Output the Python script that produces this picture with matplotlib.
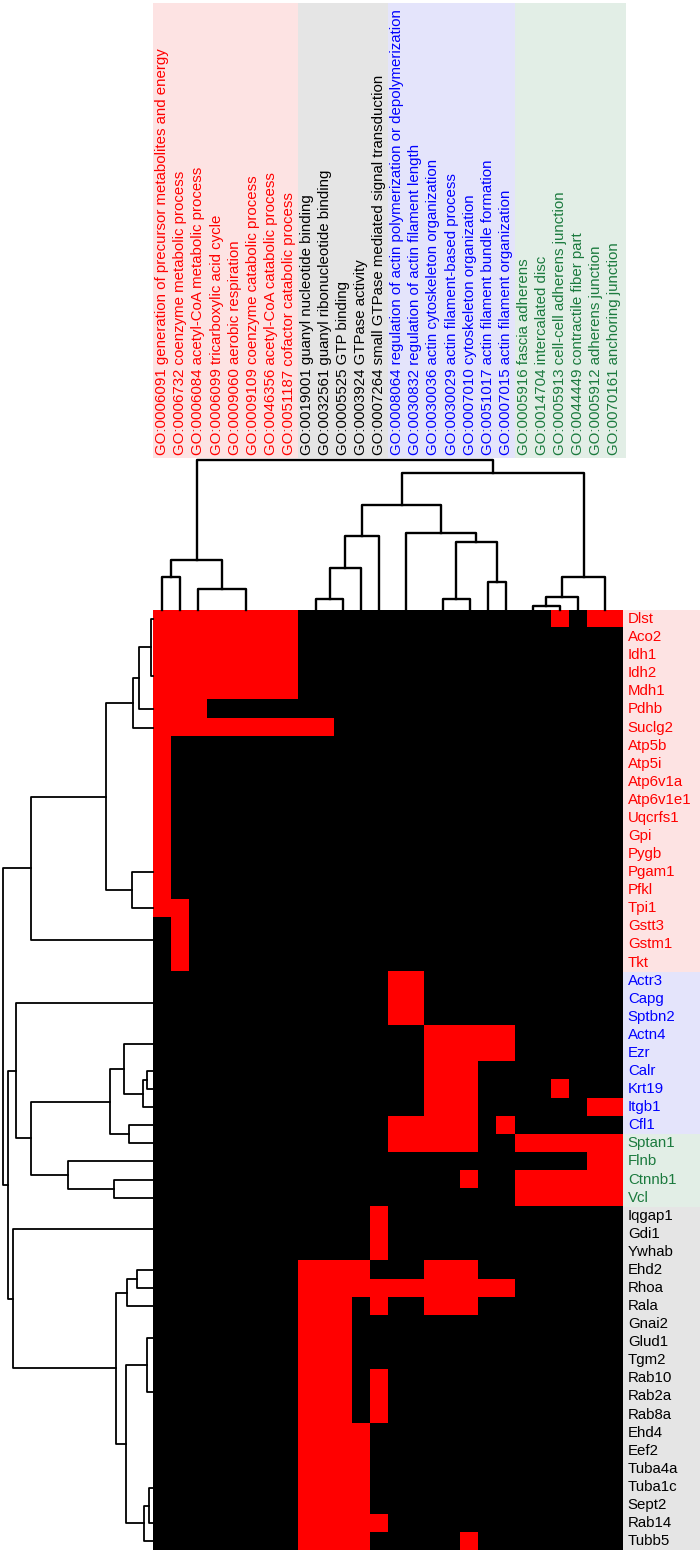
import numpy as np
import matplotlib
matplotlib.use('Agg')
import matplotlib.pyplot as plt
from matplotlib.colors import ListedColormap
from matplotlib.patches import Rectangle

plt.rcParams['font.family'] = ['Liberation Sans', 'DejaVu Sans']

# GO terms (columns), in dendrogram order
go_terms = [
    'GO:0006091 generation of precursor metabolites and energy',
    'GO:0006732 coenzyme metabolic process',
    'GO:0006084 acetyl-CoA metabolic process',
    'GO:0006099 tricarboxylic acid cycle',
    'GO:0009060 aerobic respiration',
    'GO:0009109 coenzyme catabolic process',
    'GO:0046356 acetyl-CoA catabolic process',
    'GO:0051187 cofactor catabolic process',
    'GO:0019001 guanyl nucleotide binding',
    'GO:0032561 guanyl ribonucleotide binding',
    'GO:0005525 GTP binding',
    'GO:0003924 GTPase activity',
    'GO:0007264 small GTPase mediated signal transduction',
    'GO:0008064 regulation of actin polymerization or depolymerization',
    'GO:0030832 regulation of actin filament length',
    'GO:0030036 actin cytoskeleton organization',
    'GO:0030029 actin filament-based process',
    'GO:0007010 cytoskeleton organization',
    'GO:0051017 actin filament bundle formation',
    'GO:0007015 actin filament organization',
    'GO:0005916 fascia adherens',
    'GO:0014704 intercalated disc',
    'GO:0005913 cell-cell adherens junction',
    'GO:0044449 contractile fiber part',
    'GO:0005912 adherens junction',
    'GO:0070161 anchoring junction',
]
col_groups = ['energy'] * 8 + ['gtp'] * 5 + ['actin'] * 7 + ['junction'] * 6

genes = ['Dlst', 'Aco2', 'Idh1', 'Idh2', 'Mdh1', 'Pdhb', 'Suclg2', 'Atp5b', 'Atp5i',
         'Atp6v1a', 'Atp6v1e1', 'Uqcrfs1', 'Gpi', 'Pygb', 'Pgam1', 'Pfkl', 'Tpi1',
         'Gstt3', 'Gstm1', 'Tkt',
         'Actr3', 'Capg', 'Sptbn2', 'Actn4', 'Ezr', 'Calr', 'Krt19', 'Itgb1', 'Cfl1',
         'Sptan1', 'Flnb', 'Ctnnb1', 'Vcl',
         'Iqgap1', 'Gdi1', 'Ywhab', 'Ehd2', 'Rhoa', 'Rala', 'Gnai2', 'Glud1', 'Tgm2',
         'Rab10', 'Rab2a', 'Rab8a', 'Ehd4', 'Eef2', 'Tuba4a', 'Tuba1c', 'Sept2',
         'Rab14', 'Tubb5']
row_groups = ['energy'] * 20 + ['actin'] * 9 + ['junction'] * 4 + ['gtp'] * 19

# gene x GO-term membership (1 = annotated)
hits = [
    '11111111000000000000001011',  # Dlst
    '11111111000000000000000000',  # Aco2
    '11111111000000000000000000',  # Idh1
    '11111111000000000000000000',  # Idh2
    '11111111000000000000000000',  # Mdh1
    '11100000000000000000000000',  # Pdhb
    '11111111110000000000000000',  # Suclg2
    '10000000000000000000000000',  # Atp5b
    '10000000000000000000000000',  # Atp5i
    '10000000000000000000000000',  # Atp6v1a
    '10000000000000000000000000',  # Atp6v1e1
    '10000000000000000000000000',  # Uqcrfs1
    '10000000000000000000000000',  # Gpi
    '10000000000000000000000000',  # Pygb
    '10000000000000000000000000',  # Pgam1
    '10000000000000000000000000',  # Pfkl
    '11000000000000000000000000',  # Tpi1
    '01000000000000000000000000',  # Gstt3
    '01000000000000000000000000',  # Gstm1
    '01000000000000000000000000',  # Tkt
    '00000000000001100000000000',  # Actr3
    '00000000000001100000000000',  # Capg
    '00000000000001100000000000',  # Sptbn2
    '00000000000000011111000000',  # Actn4
    '00000000000000011111000000',  # Ezr
    '00000000000000011100000000',  # Calr
    '00000000000000011100001000',  # Krt19
    '00000000000000011100000011',  # Itgb1
    '00000000000001111101000000',  # Cfl1
    '00000000000001111100111111',  # Sptan1
    '00000000000000000000000011',  # Flnb
    '00000000000000000100111111',  # Ctnnb1
    '00000000000000000000111111',  # Vcl
    '00000000000010000000000000',  # Iqgap1
    '00000000000010000000000000',  # Gdi1
    '00000000000010000000000000',  # Ywhab
    '00000000111100011100000000',  # Ehd2
    '00000000111111111111000000',  # Rhoa
    '00000000111010011100000000',  # Rala
    '00000000111000000000000000',  # Gnai2
    '00000000111000000000000000',  # Glud1
    '00000000111000000000000000',  # Tgm2
    '00000000111010000000000000',  # Rab10
    '00000000111010000000000000',  # Rab2a
    '00000000111010000000000000',  # Rab8a
    '00000000111100000000000000',  # Ehd4
    '00000000111100000000000000',  # Eef2
    '00000000111100000000000000',  # Tuba4a
    '00000000111100000000000000',  # Tuba1c
    '00000000111100000000000000',  # Sept2
    '00000000111110000000000000',  # Rab14
    '00000000111100000100000000',  # Tubb5
]
assert all(len(s) == len(go_terms) for s in hits) and len(hits) == len(genes)


def chain(leaves):
    node = leaves[0]
    for leaf in leaves[1:]:
        node = (node, leaf, 0)
    return node


# clustering trees: (left, right, merge height); leaves are indices
col_energy = ((0, 1, 32.7), (2, ((3, 4, 0), (5, (6, 7, 0), 0), 0), 20.7), 50)
col_gtp = ((((8, 9, 0), 10, 11.3), 11, 41.7), 12, 74)
col_actin = ((13, 14, 0), (((15, 16, 0), 17, 11.3), (18, 19, 28), 68.3), 77.3)
col_junc = ((((20, 21, 0), 22, 4), 23, 13.3), (24, 25, 0), 32.7)
col_tree = (col_energy, ((col_gtp, col_actin, 105), col_junc, 137.3), 150)

row_energy_a = (((0, chain([1, 2, 3, 4]), 2.7), 5, 14), 6, 20)
row_energy_b = (chain(list(range(7, 16))), 16, 21)
row_energy = ((row_energy_a, row_energy_b, 47.3), (17, (18, 19, 0), 0), 122.7)
row_actin = (((23, 24, 0), ((25, 26, 6), 27, 10.7), 29.3), (28, 29, 24), 43.3)
row_junc = (30, (31, 32, 39.3), 85)
row_cyto = (chain([20, 21, 22]), (row_actin, row_junc, 122.7), 137.3)
row_gtp_a = ((36, 37, 16.7), 38, 26)
row_gtp_b = ((39, (40, 41, 0), 0), (42, (43, 44, 0), 0), 6)
row_gtp_c = ((chain([45, 46, 47, 48, 49]), 50, 4), 51, 9.3)
row_gtp = ((33, (34, 35, 0), 0), (row_gtp_a, (row_gtp_b, row_gtp_c, 27.3), 37.3), 140)
row_tree = (row_energy, (row_cyto, row_gtp, 145), 150.7)

text_col = {'energy': '#ff0000', 'gtp': '#000000', 'actin': '#0000ff', 'junction': '#1b7a3e'}
bg_col = {'energy': '#fde3e3', 'gtp': '#e5e5e5', 'actin': '#e4e4fb', 'junction': '#e2eee6'}

W, H = 700, 1555
fig = plt.figure(figsize=(W / 100, H / 100), dpi=100)


def px_axes(left, top, right, bottom):
    ax = fig.add_axes([left / W, 1 - bottom / H, (right - left) / W, (bottom - top) / H])
    ax.set_axis_off()
    return ax


def draw_tree(ax, node, top, lw):
    if isinstance(node, int):
        return node + 0.5, 0
    left, right, h = node
    a, ha = draw_tree(ax, left, top, lw)
    b, hb = draw_tree(ax, right, top, lw)
    if h > 0:
        p = [a, a, b, b]
        q = [ha, h, h, hb]
        if top:
            ax.plot(p, q, color='black', lw=lw, clip_on=False)
        else:
            ax.plot(q, p, color='black', lw=lw, clip_on=False)
    return (a + b) / 2, h


n_rows, n_cols = len(genes), len(go_terms)
hx0, hx1, hy0 = 153.3, 623.3, 610
hy1 = hy0 + n_rows * 18.08

# heatmap
mat = np.array([[int(c) for c in s] for s in hits])
ax = px_axes(hx0, hy0, hx1, hy1)
ax.imshow(mat, cmap=ListedColormap(['black', 'red']), aspect='auto',
          interpolation='nearest', extent=(0, n_cols, n_rows, 0))

# column dendrogram
ax = px_axes(hx0, 455, hx1, hy0)
ax.set_xlim(0, n_cols)
ax.set_ylim(0, hy0 - 455)
draw_tree(ax, col_tree, True, 1.7)

# row dendrogram
ax = px_axes(0, hy0, hx0, hy1)
ax.set_xlim(hx0, 0)
ax.set_ylim(n_rows, 0)
draw_tree(ax, row_tree, False, 1.3)

# column labels
ax = px_axes(hx0, 0, hx1, 458)
ax.set_xlim(0, n_cols)
ax.set_ylim(0, 458)
for i, (term, g) in enumerate(zip(go_terms, col_groups)):
    w = 1.15 if i == n_cols - 1 else 1
    ax.add_patch(Rectangle((i, 0), w, 455, color=bg_col[g], lw=0, clip_on=False))
    ax.text(i + 0.5, 3, term, rotation=90, ha='center', va='bottom',
            color=text_col[g], fontsize=10.8)

# row labels
ax = px_axes(hx1, hy0, W, hy1)
ax.set_xlim(0, W - hx1)
ax.set_ylim(n_rows, 0)
for j, (gene, g) in enumerate(zip(genes, row_groups)):
    ax.add_patch(Rectangle((0, j), W - hx1, 1, color=bg_col[g], lw=0))
    ax.text(4.5, j + 0.5, gene, ha='left', va='center', color=text_col[g], fontsize=10.8)

fig.savefig('out.png', dpi=100)
